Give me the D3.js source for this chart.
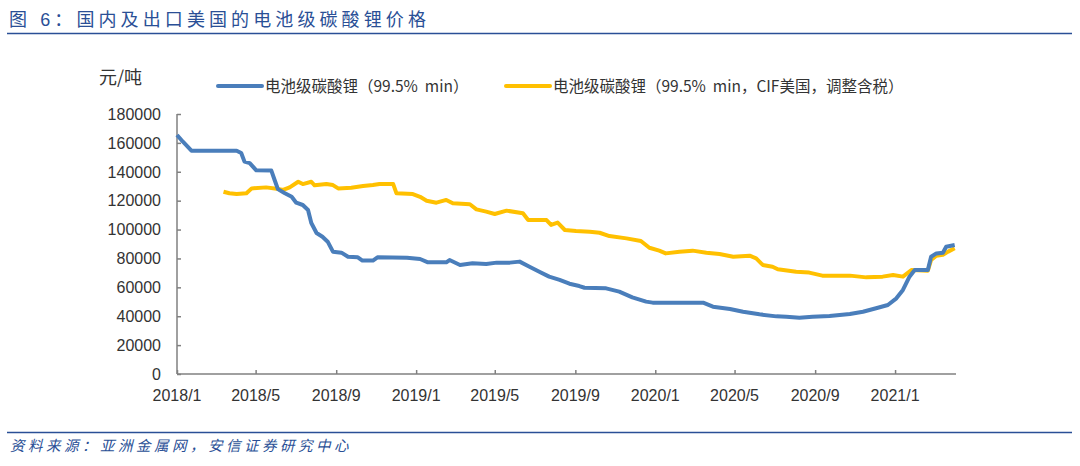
<!DOCTYPE html>
<html><head><meta charset="utf-8">
<script src="https://cdn.jsdelivr.net/npm/d3@7"></script>
<style>
html,body{margin:0;padding:0;background:#fff;}
svg{display:block;}
</style></head>
<body>
<svg id="c" width="1080" height="466"></svg>
<script>
// ---- data ----
const domesticDates = ["2018-01-01","2018-01-10","2018-01-23","2018-04-02","2018-04-09","2018-04-14","2018-04-22","2018-05-02","2018-05-25","2018-05-30","2018-06-04","2018-06-14","2018-06-25","2018-07-02","2018-07-12","2018-07-20","2018-07-25","2018-08-02","2018-08-11","2018-08-19","2018-08-27","2018-09-09","2018-09-19","2018-10-04","2018-10-11","2018-10-27","2018-11-03","2018-12-18","2019-01-07","2019-01-19","2019-02-16","2019-02-21","2019-03-09","2019-03-28","2019-04-18","2019-05-04","2019-05-24","2019-06-08","2019-06-23","2019-07-08","2019-07-23","2019-08-08","2019-08-23","2019-09-07","2019-09-15","2019-10-18","2019-11-07","2019-11-27","2019-12-18","2019-12-28","2020-03-14","2020-03-29","2020-04-24","2020-05-14","2020-06-08","2020-07-04","2020-07-19","2020-08-08","2020-08-28","2020-09-23","2020-10-24","2020-11-13","2020-12-03","2020-12-21","2021-01-03","2021-01-13","2021-01-23","2021-01-31","2021-02-20","2021-02-25","2021-03-05","2021-03-15","2021-03-20","2021-04-02"];
const domesticValues = [165500,160800,154600,154600,153000,147000,146000,141000,140800,134300,128000,125300,122700,118600,117000,113500,104500,97600,95000,91600,84700,84000,81200,80800,78500,78500,80800,80500,79600,77300,77300,78900,75500,76600,76200,77100,77100,77800,74300,70800,67400,65100,62500,60900,59700,59300,57000,53100,50100,49400,49400,46600,45000,43100,41300,39900,39700,39000,39700,40100,41500,43100,45500,47800,52400,58200,67400,72000,72000,81200,83500,84000,88100,89300];

const exportDates = ["2018-03-13","2018-03-22","2018-04-02","2018-04-17","2018-04-25","2018-05-17","2018-06-02","2018-06-12","2018-06-22","2018-07-05","2018-07-12","2018-07-25","2018-07-30","2018-08-17","2018-08-27","2018-09-04","2018-09-24","2018-10-12","2018-10-27","2018-11-06","2018-11-27","2018-12-02","2018-12-27","2019-01-07","2019-01-17","2019-02-01","2019-02-16","2019-02-26","2019-03-24","2019-04-03","2019-04-18","2019-05-01","2019-05-19","2019-06-13","2019-06-21","2019-07-19","2019-07-26","2019-08-05","2019-08-16","2019-09-02","2019-09-23","2019-10-08","2019-10-23","2019-11-18","2019-12-10","2019-12-23","2020-01-07","2020-01-17","2020-02-07","2020-02-27","2020-03-19","2020-04-08","2020-04-29","2020-05-24","2020-06-03","2020-06-13","2020-06-28","2020-07-06","2020-08-03","2020-08-23","2020-09-12","2020-10-24","2020-11-18","2020-12-13","2020-12-29","2021-01-13","2021-01-26","2021-02-20","2021-02-25","2021-03-05","2021-03-15","2021-03-23","2021-04-02"];
const exportValues = [126200,125100,124600,125100,128500,129200,128300,127400,129200,133100,131500,133100,130600,131500,130800,128500,129000,130100,130800,131500,131500,125100,124600,122700,120000,118600,120500,118200,117500,114000,112400,110800,113100,111300,106600,106600,103200,104800,99700,99000,98500,97800,95500,93900,92100,87400,85400,83500,84700,85400,84000,83100,81200,81900,80100,75500,74300,72500,70800,70200,68100,68100,66900,67400,68500,67400,72000,71500,78900,81900,82500,84700,87000];

const seriesNames = ["电池级碳酸锂（99.5%  min）","电池级碳酸锂（99.5%  min，CIF美国，调整含税）"];
const yTicks = [0,20000,40000,60000,80000,100000,120000,140000,160000,180000];
const xTickDates = ["2018-01-01","2018-05-01","2018-09-01","2019-01-01","2019-05-01","2019-09-01","2020-01-01","2020-05-01","2020-09-01","2021-01-01"];
const titleText = "图 6：国内及出口美国的电池级碳酸锂价格";
const sourceText = "资料来源：亚洲金属网，安信证券研究中心";
const unitText = "元/吨";

// ---- drawing ----
(function () {
const parse = d3.timeParse("%Y-%m-%d");
const svg = d3.select("#c");
const pL = 177, pR = 956, pT = 114, pB = 374;
const x = d3.scaleTime().domain([parse("2018-01-01"), parse("2021-04-04")]).range([pL, pR]);
const y = d3.scaleLinear().domain([0, 180000]).range([pB, pT]);
const blue = "#4a7ebb", yellow = "#ffc000", navy = "#2a4f96";
const sans = "Arial, 'Liberation Sans', 'Noto Sans CJK SC', sans-serif";
const cjk = "'Noto Sans CJK SC', sans-serif";
const mixed = "'Liberation Sans', 'Noto Sans CJK SC', sans-serif";

// title
svg.append("text").attr("x", 9).attr("y", 26)
  .attr("fill", navy).style("font-family", mixed).style("font-size", "18px")
  .style("letter-spacing", "4.1px").text(titleText);
svg.append("line").attr("x1", 7).attr("x2", 1072).attr("y1", 33.5).attr("y2", 33.5)
  .attr("stroke", navy).attr("stroke-width", 1.5);

// source
svg.append("line").attr("x1", 7).attr("x2", 1072).attr("y1", 432.5).attr("y2", 432.5)
  .attr("stroke", navy).attr("stroke-width", 1.5);
svg.append("text").attr("x", 10).attr("y", 451)
  .attr("fill", navy).style("font-family", cjk).style("font-size", "14.5px")
  .style("font-style", "italic").style("letter-spacing", "3.5px").text(sourceText);

// unit
svg.append("text").attr("x", 99).attr("y", 84).attr("fill", "#333")
  .style("font-family", cjk).style("font-size", "18px").text(unitText);

// axes
const axisColor = "#808080";
const yAxis = svg.append("g").attr("transform", `translate(${pL},0)`)
  .call(d3.axisRight(y).tickValues(yTicks).tickSize(4).tickFormat(""));
yAxis.select(".domain").attr("d", `M0,${pT}V${pB}`);
yAxis.selectAll("path,line").attr("stroke", axisColor).attr("stroke-width", 1.5);

svg.append("g").selectAll("text").data(yTicks).join("text")
  .attr("x", 161).attr("y", d => y(d)).attr("dy", "0.36em")
  .attr("text-anchor", "end").attr("fill", "#333")
  .style("font-family", sans).style("font-size", "16px")
  .text(d => d3.format("d")(d));

const xAxis = svg.append("g").attr("transform", `translate(0,${pB})`)
  .call(d3.axisTop(x).tickValues(xTickDates.map(parse)).tickSize(4).tickFormat(""));
xAxis.select(".domain").attr("d", `M${pL},0H${pR}`);
xAxis.selectAll("path,line").attr("stroke", axisColor).attr("stroke-width", 1.5);

svg.append("g").selectAll("text").data(xTickDates).join("text")
  .attr("x", d => x(parse(d))).attr("y", 401)
  .attr("text-anchor", "middle").attr("fill", "#333")
  .style("font-family", sans).style("font-size", "16px")
  .text(d => { const t = parse(d); return t.getFullYear() + "/" + (t.getMonth() + 1); });

// lines
const line = d3.line().x(d => x(d[0])).y(d => y(d[1])).curve(d3.curveLinear);
const exportData = exportDates.map((d, i) => [parse(d), exportValues[i]]);
const domesticData = domesticDates.map((d, i) => [parse(d), domesticValues[i]]);
svg.append("path").datum(exportData).attr("d", line).attr("fill", "none")
  .attr("stroke", yellow).attr("stroke-width", 4).attr("stroke-linejoin", "round");
svg.append("path").datum(domesticData).attr("d", line).attr("fill", "none")
  .attr("stroke", blue).attr("stroke-width", 4).attr("stroke-linejoin", "round");

// legend
const legend = [
  {name: seriesNames[0], color: blue, x1: 218, x2: 262, tx: 265},
  {name: seriesNames[1], color: yellow, x1: 506, x2: 550, tx: 553}
];
legend.forEach(l => {
  svg.append("line").attr("x1", l.x1).attr("x2", l.x2).attr("y1", 86).attr("y2", 86)
    .attr("stroke", l.color).attr("stroke-width", 4).attr("stroke-linecap", "round");
  svg.append("text").attr("x", l.tx).attr("y", 86).attr("dy", "0.36em")
    .attr("fill", "#333").style("font-family", cjk).style("font-size", "15.5px")
    .style("white-space", "pre").attr("xml:space", "preserve").text(l.name);
});
})();
</script>
</body></html>
